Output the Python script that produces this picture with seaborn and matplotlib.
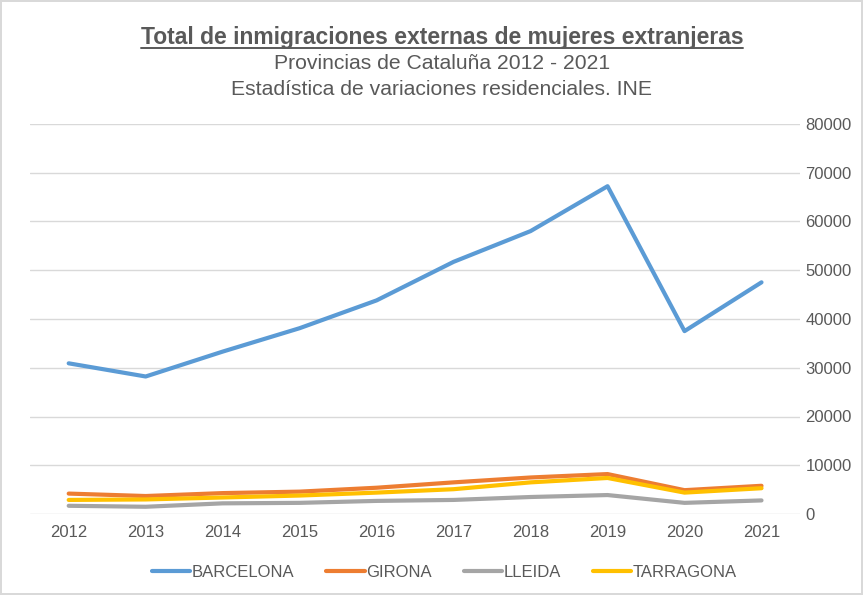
import numpy as np
import pandas as pd
import matplotlib.pyplot as plt
from matplotlib.lines import Line2D
import seaborn as sns

YEARS = ["2012", "2013", "2014", "2015", "2016", "2017", "2018", "2019", "2020", "2021"]
BARCELONA = [30900, 28200, 33300, 38100, 43800, 51700, 58000, 67200, 37500, 47500]
GIRONA = [4200, 3700, 4300, 4600, 5400, 6500, 7500, 8200, 4900, 5800]
LLEIDA = [1700, 1500, 2200, 2300, 2700, 2900, 3500, 3900, 2300, 2800]
TARRAGONA = [2900, 3000, 3400, 3800, 4400, 5100, 6500, 7400, 4400, 5300]
PROVINCES = ["BARCELONA", "GIRONA", "LLEIDA", "TARRAGONA"]
COLORS = ["#5B9BD5", "#ED7D31", "#A5A5A5", "#FFC000"]

TITLE = "Total de inmigraciones externas de mujeres extranjeras"
SUBTITLE_1 = "Provincias de Cataluña 2012 - 2021"
SUBTITLE_2 = "Estadística de variaciones residenciales. INE"

sns.set_style("white")
plt.rcParams["font.family"] = ["Liberation Sans", "DejaVu Sans"]
TEXT = "#595959"

df = pd.DataFrame({
    "x": list(range(len(YEARS))) * 4,
    "value": BARCELONA + GIRONA + LLEIDA + TARRAGONA,
    "prov": [p for p in PROVINCES for _ in YEARS],
})

fig = plt.figure(figsize=(8.63, 5.95), dpi=100)
fig.patch.set_edgecolor("#D9D9D9")
fig.patch.set_linewidth(1.5)
ax = fig.add_axes([0.035, 0.136, 0.892, 0.656])

sns.lineplot(data=df, x="x", y="value", hue="prov", palette=COLORS,
             hue_order=PROVINCES, linewidth=3, ax=ax, legend=False)

ax.set_xlim(-0.5, len(YEARS) - 0.5)
ax.set_ylim(0, 80000)
ax.set_xticks(range(len(YEARS)))
ax.set_xticklabels(YEARS)
ax.set_yticks(np.arange(0, 80001, 10000))
ax.yaxis.tick_right()
ax.tick_params(axis="both", length=0, labelsize=12, labelcolor=TEXT)
ax.tick_params(axis="y", pad=4)
ax.tick_params(axis="x", pad=8)
ax.grid(axis="y", color="#D9D9D9", linewidth=1)
ax.set_xlabel("")
ax.set_ylabel("")
for s in ax.spines.values():
    s.set_visible(False)

handles = [Line2D([0], [0], color=c, linewidth=3) for c in COLORS]
fig.legend(handles, PROVINCES, loc="center", bbox_to_anchor=(0.515, 0.038), ncol=4,
           frameon=False, fontsize=12, labelcolor=TEXT, handlelength=2.3,
           handletextpad=0.1, columnspacing=1.9)

title = fig.text(0.512, 0.937, TITLE, ha="center", va="center", fontsize=16.5,
                 fontweight="bold", color=TEXT)
fig.text(0.512, 0.893, SUBTITLE_1, ha="center", va="center", fontsize=15.2, color=TEXT)
fig.text(0.512, 0.849, SUBTITLE_2, ha="center", va="center", fontsize=15.2, color=TEXT)

# underline the title
fig.canvas.draw()
bb = title.get_window_extent().transformed(fig.transFigure.inverted())
fig.add_artist(Line2D([bb.x0, bb.x1], [bb.y0 + 0.002, bb.y0 + 0.002],
                      transform=fig.transFigure, color=TEXT, linewidth=1.4))

fig.savefig("out.png", dpi=100)
